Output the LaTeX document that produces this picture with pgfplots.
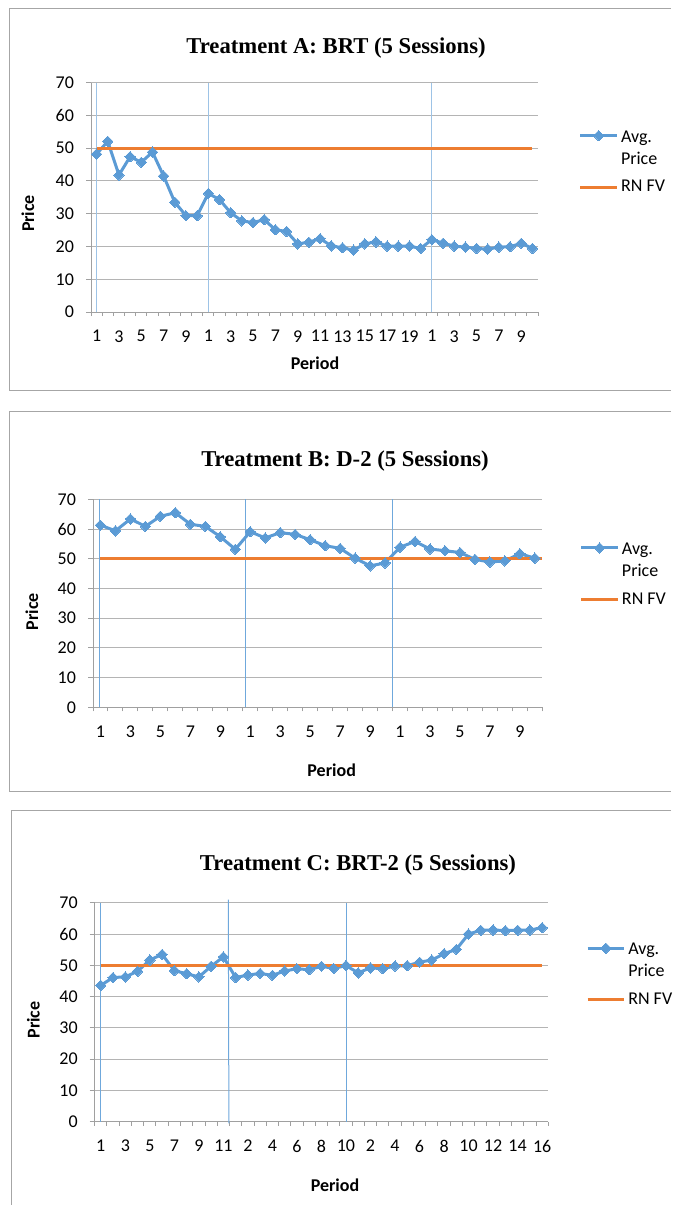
\documentclass[border=0pt]{standalone}
\usepackage{fontspec}
\setmainfont{Carlito}
\newfontfamily\titlefont{Liberation Serif}
\usepackage{pgfplots}
\pgfplotsset{compat=1.18}

\definecolor{xlblue}{HTML}{5B9BD5}
\definecolor{xlorange}{HTML}{ED7D31}
\definecolor{sepA}{HTML}{9DC3E6}
\definecolor{sepB}{HTML}{6FA8DC}
\definecolor{gridgray}{HTML}{B4B4B4}
\definecolor{axgray}{HTML}{A0A0A0}
\definecolor{framegray}{HTML}{A6A6A6}

\pgfplotsset{
  panel/.style={
    scale only axis,
    anchor=south west,
    axis x line=bottom,
    axis y line=left,
    axis line style={draw=axgray, line width=0.75pt, -},
    ymin=0, ymax=70, ytick={0,10,...,70},
    ymajorgrids,
    grid style={draw=gridgray, line width=0.75pt},
    tick align=outside,
    major tick length=3.75pt,
    minor tick length=3pt,
    tick style={draw=axgray, line width=0.75pt},
    major x tick style={draw=none},
    minor x tick style={draw=axgray, line width=0.75pt},
    /pgf/number format/assume math mode=true,
    tick label style={font=\fontsize{13.5}{16}\selectfont},
    yticklabel style={xshift=-5.5pt},
    xticklabel style={yshift=-6.5pt},
    clip=false,
    legend cell align=left,
    legend style={draw=none, fill=none, inner sep=0pt, anchor=north west,
      font=\fontsize{13.5}{16.3}\selectfont, row sep=23pt},
    legend image code/.code={%
      \draw[mark repeat=2, mark phase=2] plot coordinates {(0cm,0cm) (0.48cm,0cm) (0.96cm,0cm)};},
  },
  avg/.style={color=xlblue, line width=2.25pt, mark=square*,
    mark size=2.75pt, mark options={rotate=45, line width=0pt, fill=xlblue}},
  fv/.style={color=xlorange, line width=2.25pt, no marks},
}

\begin{document}
\begin{tikzpicture}
% page area and panel frames, measured in pixels
\begin{scope}[x=0.75pt, y=-0.75pt]
  \useasboundingbox (0,0) rectangle (671,1205);
  \draw[framegray, line width=0.75pt] (671,8.5) -- (9.5,8.5) -- (9.5,390.7) -- (671,390.7);
  \draw[framegray, line width=0.75pt] (671,411) -- (9.5,411) -- (9.5,791.5) -- (671,791.5);
  \draw[framegray, line width=0.75pt] (671,810.7) -- (11,810.7) -- (11,1205);

  \node[anchor=base, font=\titlefont\bfseries\fontsize{17}{20}\selectfont] at (336,53.3) {Treatment A: BRT (5 Sessions)};
  \node[anchor=base, font=\titlefont\bfseries\fontsize{17}{20}\selectfont] at (345,466) {Treatment B: D-2 (5 Sessions)};
  \node[anchor=base, font=\titlefont\bfseries\fontsize{17}{20}\selectfont] at (358,870.7) {Treatment C: BRT-2 (5 Sessions)};

  \node[rotate=90, font=\bfseries\fontsize{13.5}{15}\selectfont] at (28,213.5) {Price};
  \node[rotate=90, font=\bfseries\fontsize{13.5}{15}\selectfont] at (32,611.7) {Price};
  \node[rotate=90, font=\bfseries\fontsize{13.5}{15}\selectfont] at (33.3,1020) {Price};

  \node[font=\bfseries\fontsize{13.5}{15}\selectfont] at (315,363) {Period};
  \node[font=\bfseries\fontsize{13.5}{15}\selectfont] at (331.7,770) {Period};
  \node[font=\bfseries\fontsize{13.5}{15}\selectfont] at (335,1185) {Period};
\end{scope}

% Treatment A: three sessions of 10, 20 and 10 periods
\begin{axis}[panel,
  at={(68.25pt,-234pt)}, width=335.25pt, height=172pt,
  xmin=0.5, xmax=40.5,
  xtick={1,3,...,39},
  xticklabels={1,3,5,7,9,1,3,5,7,9,11,13,15,17,19,1,3,5,7,9},
  minor xtick={0.5,1.5,...,40.5},
  legend style={at={(1.091,0.819)}},
]
\addplot[sepA, line width=0.75pt, forget plot] coordinates {(1,0) (1,70)};
\addplot[sepA, line width=0.75pt, forget plot] coordinates {(11,0) (11,70)};
\addplot[sepA, line width=0.75pt, forget plot] coordinates {(31,0) (31,70)};
\addplot[avg] coordinates {
  (1,48.2) (2,52.1) (3,41.8) (4,47.4) (5,45.7) (6,48.8) (7,41.5) (8,33.5) (9,29.4) (10,29.4)
  (11,36.2) (12,34.3) (13,30.3) (14,27.8) (15,27.3) (16,28.2) (17,25.1) (18,24.6) (19,20.8) (20,21.3)
  (21,22.4) (22,20.2) (23,19.6) (24,18.9) (25,20.8) (26,21.4) (27,20.1) (28,20.1) (29,20.1) (30,19.4)
  (31,22.1) (32,21.0) (33,20.1) (34,19.8) (35,19.4) (36,19.2) (37,19.8) (38,19.9) (39,21.0) (40,19.4)
};
\addlegendentry{\begin{tabular}[t]{@{}l@{}}Avg.\\Price\end{tabular}}
\addplot[fv] coordinates {(1,50) (40,50)};
\addlegendentry{RN FV}
\end{axis}

% Treatment B: three sessions of 10 periods
\begin{axis}[panel,
  at={(69.75pt,-530.5pt)}, width=337pt, height=156pt,
  xmin=0.5, xmax=30.5,
  xtick={1,3,...,29},
  xticklabels={1,3,5,7,9,1,3,5,7,9,1,3,5,7,9},
  minor xtick={0.5,1.5,...,30.5},
  legend style={at={(1.083,0.822)}},
]
\addplot[sepB, line width=0.75pt, forget plot] coordinates {(0.95,0) (0.95,70)};
\addplot[sepB, line width=0.75pt, forget plot] coordinates {(10.65,0) (10.65,70)};
\addplot[sepB, line width=0.75pt, forget plot] coordinates {(20.5,0) (20.5,70)};
\addplot[avg] coordinates {
  (1,61.3) (2,59.4) (3,63.4) (4,60.9) (5,64.3) (6,65.5) (7,61.6) (8,60.9) (9,57.4) (10,53.2)
  (11,59.1) (12,57.0) (13,58.8) (14,58.2) (15,56.4) (16,54.4) (17,53.5) (18,50.2) (19,47.6) (20,48.6)
  (21,53.9) (22,55.8) (23,53.3) (24,52.7) (25,52.1) (26,49.8) (27,48.9) (28,49.3) (29,51.7) (30,50.2)
};
\addlegendentry{\begin{tabular}[t]{@{}l@{}}Avg.\\Price\end{tabular}}
\addplot[fv] coordinates {(1,50) (30.5,50)};
\addlegendentry{RN FV}
\end{axis}

% Treatment C: sessions of 11, 10 and 16 periods
\begin{axis}[panel,
  at={(71pt,-841.3pt)}, width=340.2pt, height=164.25pt,
  xmin=0.5, xmax=37.5,
  xtick={1,3,...,37},
  xticklabels={1,3,5,7,9,11,2,4,6,8,10,2,4,6,8,10,12,14,16},
  minor xtick={0.5,1.5,...,37.5},
  legend style={at={(1.083,0.845)}},
]
\addplot[sepB, line width=0.75pt, forget plot] coordinates {(0.96,0) (0.96,70)};
\addplot[sepB, line width=0.75pt, forget plot] coordinates {(11.45,-0.5) (11.4,71)};
\addplot[sepB, line width=0.75pt, forget plot] coordinates {(21.05,0) (21.05,70)};
\addplot[avg] coordinates {
  (1,43.6) (2,46.1) (3,46.3) (4,48.1) (5,51.7) (6,53.5) (7,48.3) (8,47.3) (9,46.3) (10,49.7) (11,52.7)
  (12,46.1) (13,46.9) (14,47.4) (15,46.8) (16,48.2) (17,48.9) (18,48.6) (19,49.7) (20,49.0) (21,49.9)
  (22,47.6) (23,49.2) (24,48.9) (25,49.8) (26,49.9) (27,51.0) (28,51.7) (29,53.7) (30,55.1)
  (31,60.0) (32,61.2) (33,61.3) (34,61.1) (35,61.2) (36,61.3) (37,62.0)
};
\addlegendentry{\begin{tabular}[t]{@{}l@{}}Avg.\\Price\end{tabular}}
\addplot[fv] coordinates {(1,50) (37,50)};
\addlegendentry{RN FV}
\end{axis}
\end{tikzpicture}
\end{document}
